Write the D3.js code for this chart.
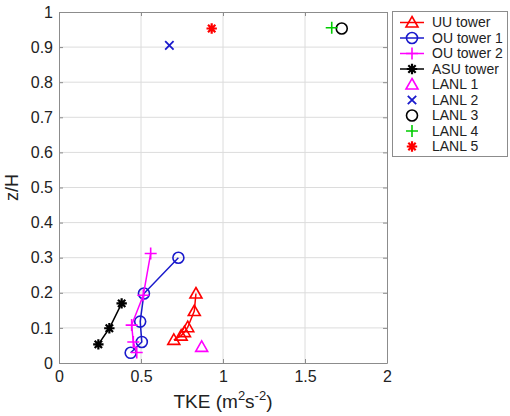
<!DOCTYPE html>
<html>
<head>
<meta charset="utf-8">
<script src="https://cdn.jsdelivr.net/npm/d3@7"></script>
<style>
  body { margin: 0; background: #fff; }
  svg { display: block; font-family: "Liberation Sans", Arial, sans-serif; }
</style>
</head>
<body>
<svg id="chart" width="510" height="416"></svg>
<script>
// TKE profiles (x = TKE in m^2 s^-2, z = z/H)
const uuTowerTKE   = [0.70, 0.745, 0.765, 0.785, 0.825, 0.835];
const uuTowerZ     = [0.066, 0.078, 0.088, 0.102, 0.148, 0.198];
const ouTower1TKE  = [0.437, 0.505, 0.495, 0.518, 0.728];
const ouTower1Z    = [0.029, 0.06, 0.118, 0.198, 0.30];
const ouTower2TKE  = [0.474, 0.453, 0.443, 0.514, 0.559];
const ouTower2Z    = [0.03, 0.06, 0.108, 0.193, 0.312];
const asuTowerTKE  = [0.24, 0.307, 0.382];
const asuTowerZ    = [0.053, 0.099, 0.17];
const lanlTKE      = [0.87, 0.673, 1.724, 1.663, 0.931];
const lanlZ        = [0.046, 0.905, 0.953, 0.955, 0.953];

const xTicks = [0, 0.5, 1, 1.5, 2];
const yTicks = [0, 0.1, 0.2, 0.3, 0.4, 0.5, 0.6, 0.7, 0.8, 0.9, 1];

const seriesNames = ["UU tower", "OU tower 1", "OU tower 2", "ASU tower",
                     "LANL 1", "LANL 2", "LANL 3", "LANL 4", "LANL 5"];
const seriesColors = ["#ff0000", "#1a1acc", "#ff00ff", "#000000",
                      "#ff00ff", "#1a1acc", "#000000", "#00cc00", "#ff0000"];
const seriesMarkers = ["triangle", "circle", "plus", "star",
                       "triangle", "cross", "circle", "plus", "star"];

const svg = d3.select("#chart");
const plot = { left: 59, right: 387, top: 12, bottom: 363 };

const x = d3.scaleLinear().domain([0, 2]).range([plot.left, plot.right]);
const y = d3.scaleLinear().domain([0, 1]).range([plot.bottom, plot.top]);

// grid
const grid = svg.append("g").attr("stroke", "#dcdcdc").attr("stroke-width", 1);
xTicks.slice(1, -1).forEach(t => grid.append("line")
  .attr("x1", x(t)).attr("x2", x(t)).attr("y1", plot.top).attr("y2", plot.bottom));
yTicks.slice(1, -1).forEach(t => grid.append("line")
  .attr("x1", plot.left).attr("x2", plot.right).attr("y1", y(t)).attr("y2", y(t)));

// axes (ticks pointing inward, box style)
const axisColor = "#8c8c8c";
const bottomAxis = svg.append("g").attr("transform", `translate(0,${plot.bottom})`)
  .call(d3.axisBottom(x).tickValues(xTicks).tickFormat(d3.format("")).tickSizeInner(-4).tickSizeOuter(0).tickPadding(8));
const leftAxis = svg.append("g").attr("transform", `translate(${plot.left},0)`)
  .call(d3.axisLeft(y).tickValues(yTicks).tickFormat(d3.format("")).tickSizeInner(-4).tickSizeOuter(0).tickPadding(6));
const topAxis = svg.append("g").attr("transform", `translate(0,${plot.top})`)
  .call(d3.axisTop(x).tickValues(xTicks).tickFormat("").tickSizeInner(-4).tickSizeOuter(0));
const rightAxis = svg.append("g").attr("transform", `translate(${plot.right},0)`)
  .call(d3.axisRight(y).tickValues(yTicks).tickFormat("").tickSizeInner(-4).tickSizeOuter(0));
[bottomAxis, leftAxis, topAxis, rightAxis].forEach(a => {
  a.select(".domain").attr("stroke", axisColor);
  a.selectAll(".tick line").attr("stroke", axisColor);
  a.selectAll(".tick text").attr("fill", "#222").style("font-size", "16px")
    .style("font-family", "'Liberation Sans', Arial, sans-serif");
});

// axis titles
const xTitle = svg.append("text").attr("x", x(1)).attr("y", 408)
  .attr("text-anchor", "middle").attr("fill", "#222").style("font-size", "19px");
xTitle.append("tspan").text("TKE (m");
xTitle.append("tspan").attr("dy", -8).style("font-size", "13px").text("2");
xTitle.append("tspan").attr("dy", 8).text("s");
xTitle.append("tspan").attr("dy", -8).style("font-size", "13px").text("-2");
xTitle.append("tspan").attr("dy", 8).text(")");

svg.append("text").attr("transform", `translate(18,${y(0.5)}) rotate(-90)`)
  .attr("text-anchor", "middle").attr("fill", "#222").style("font-size", "18px").text("z/H");

// marker symbols
function drawMarker(g, type, cx, cy, color) {
  const s = 6;
  if (type === "triangle") {
    g.append("path").attr("d", `M${cx},${cy - s} L${cx + s},${cy + s * 0.75} L${cx - s},${cy + s * 0.75} Z`)
      .attr("fill", "none").attr("stroke", color).attr("stroke-width", 1.6);
  } else if (type === "circle") {
    g.append("circle").attr("cx", cx).attr("cy", cy).attr("r", 5.5)
      .attr("fill", "none").attr("stroke", color).attr("stroke-width", 1.6);
  } else if (type === "plus") {
    g.append("path").attr("d", `M${cx - s},${cy} H${cx + s} M${cx},${cy - s} V${cy + s}`)
      .attr("stroke", color).attr("stroke-width", 1.6);
  } else if (type === "cross") {
    const c = 4.2;
    g.append("path").attr("d", `M${cx - c},${cy - c} L${cx + c},${cy + c} M${cx - c},${cy + c} L${cx + c},${cy - c}`)
      .attr("stroke", color).attr("stroke-width", 1.8);
  } else if (type === "star") {
    const r = 5.2;
    let d = "";
    for (let i = 0; i < 4; i++) {
      const a = i * Math.PI / 4;
      d += `M${cx - r * Math.cos(a)},${cy - r * Math.sin(a)} L${cx + r * Math.cos(a)},${cy + r * Math.sin(a)} `;
    }
    g.append("path").attr("d", d).attr("stroke", color).attr("stroke-width", 2.2);
  }
}

const line = d3.line().x(d => x(d[0])).y(d => y(d[1]));
const towers = [
  [uuTowerTKE, uuTowerZ],
  [ouTower1TKE, ouTower1Z],
  [ouTower2TKE, ouTower2Z],
  [asuTowerTKE, asuTowerZ]
];
const marks = svg.append("g");
towers.forEach(([tke, z], i) => {
  const pts = tke.map((v, j) => [v, z[j]]);
  marks.append("path").attr("d", line(pts)).attr("fill", "none")
    .attr("stroke", seriesColors[i]).attr("stroke-width", 1.5);
  pts.forEach(p => drawMarker(marks, seriesMarkers[i], x(p[0]), y(p[1]), seriesColors[i]));
});
lanlTKE.forEach((v, j) => {
  const i = 4 + j;
  drawMarker(marks, seriesMarkers[i], x(v), y(lanlZ[j]), seriesColors[i]);
});

// legend
const legend = svg.append("g");
legend.append("rect").attr("x", 392.5).attr("y", 11.5).attr("width", 115).attr("height", 145)
  .attr("fill", "#fff").attr("stroke", "#8c8c8c");
seriesNames.forEach((name, i) => {
  const ly = 22.5 + i * 15.5;
  if (i < 4) {
    legend.append("line").attr("x1", 400).attr("x2", 424).attr("y1", ly).attr("y2", ly)
      .attr("stroke", seriesColors[i]).attr("stroke-width", 1.5);
  }
  drawMarker(legend, seriesMarkers[i], 412, ly, seriesColors[i]);
  legend.append("text").attr("x", 432).attr("y", ly + 4.8).attr("fill", "#222")
    .style("font-size", "14px").text(name);
});
</script>
</body>
</html>
